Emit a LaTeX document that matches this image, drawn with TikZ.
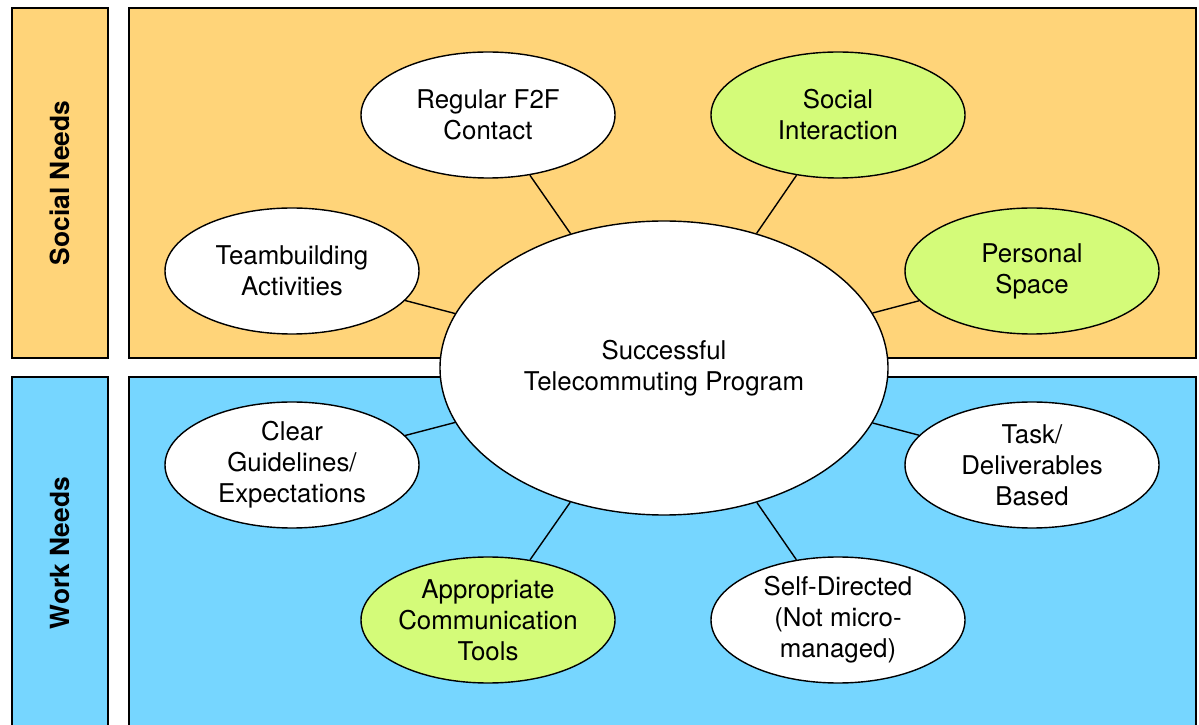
\documentclass[tikz,border=0pt]{standalone}
\usepackage{fontspec}
\setmainfont{TeX Gyre Heros}
\usetikzlibrary{shapes.geometric}
\definecolor{cantaloupe}{HTML}{FFD479}
\definecolor{sky}{HTML}{76D6FF}
\definecolor{honeydew}{HTML}{D4FB79}
\tikzset{
    band/.style = {draw, line width = 0.8pt},
    need/.style = {draw, ellipse, line width = 0.8pt, fill = white, minimum width = 5.08cm, minimum height = 2.52cm, inner sep = 0pt, align = center, font = \fontsize{14.7}{17.6}\selectfont},
    keyneed/.style = {need, fill = honeydew},
    sidelabel/.style = {rotate = 90, font = \bfseries\fontsize{15}{18}\selectfont}
}
\begin{document}
\begin{tikzpicture}
            \clip (0,0) rectangle (23.98,-14.5);
            \begin{scope}
                \draw[band, fill = cantaloupe] (0.24,-0.16) rectangle (2.16,-7.16);
                \draw[band, fill = cantaloupe] (2.58,-0.16) rectangle (23.92,-7.16);
                \draw[band, fill = sky] (0.24,-7.54) rectangle (2.16,-15);
                \draw[band, fill = sky] (2.58,-7.54) rectangle (23.92,-15);
                \node[sidelabel] (socialneeds) at (1.2,-3.66) {Social Needs};
                \node[sidelabel] (workneeds) at (1.2,-11.06) {Work Needs};
            \end{scope}
            \node[need, minimum width = 8.96cm, minimum height = 5.88cm] (program) at (13.28,-7.36) {Successful\\Telecommuting Program};
            \node[need] (contact) at (9.76,-2.3) {Regular F2F\\Contact};
            \node[keyneed] (interaction) at (16.76,-2.3) {Social\\Interaction};
            \node[need] (teambuilding) at (5.84,-5.42) {Teambuilding\\Activities};
            \node[keyneed] (space) at (20.64,-5.42) {Personal\\Space};
            \node[need] (guidelines) at (5.84,-9.3) {Clear\\Guidelines/\\Expectations};
            \node[need] (deliverables) at (20.64,-9.3) {Task/\\Deliverables\\Based};
            \node[keyneed] (tools) at (9.76,-12.4) {Appropriate\\Communication\\Tools};
            \node[need] (selfdirected) at (16.76,-12.4) {Self-Directed\\(Not micro-\\managed)};
            \foreach \n in {contact, interaction, teambuilding, space, guidelines, deliverables, tools, selfdirected} {
                \draw[line width = 0.8pt] (program) -- (\n);
            }
        \end{tikzpicture}
\end{document}
